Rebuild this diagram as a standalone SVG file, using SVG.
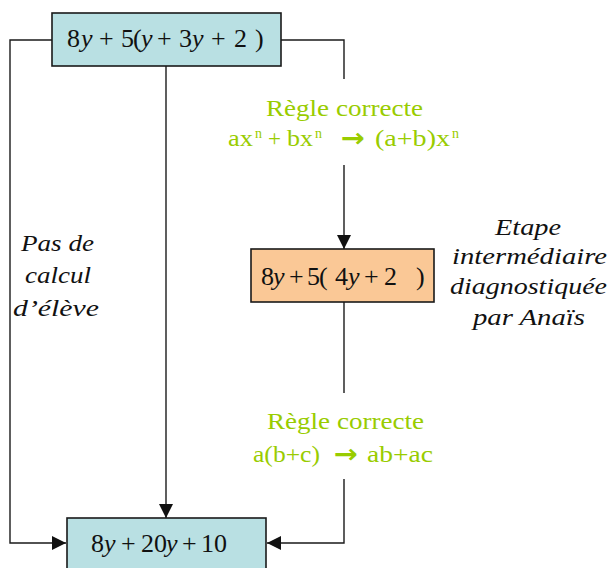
<svg xmlns="http://www.w3.org/2000/svg" width="608" height="568" viewBox="0 0 608 568">
<style>
.box{stroke:#1a1a1a;stroke-width:1.6}
.teal{fill:#B9E0E3}
.orange{fill:#FAC896}
.math{font-family:"Liberation Serif","Times New Roman",serif;font-size:26px;fill:#111}
.math .v{font-style:italic}
.rule{font-family:"Liberation Serif","Times New Roman",serif;font-size:23px;fill:#99CC00}
.rule .sup{font-size:14px}
.arr{font-family:"DejaVu Sans",sans-serif;font-weight:bold;font-size:26px}
.lbl{font-family:"Liberation Serif","Times New Roman",serif;font-style:italic;font-size:23px;fill:#111}
.conn{fill:none;stroke:#1a1a1a;stroke-width:1.4}
</style>
<defs>
<marker id="ah" markerUnits="userSpaceOnUse" markerWidth="14" markerHeight="14" viewBox="0 0 14 14" refX="14" refY="7" orient="auto">
<path d="M0,0 L14,7 L0,14 Z" fill="#111"/>
</marker>
</defs>

<g id="connectors">
<path class="conn" d="M52,40 H10 V543 H66" marker-end="url(#ah)"/>
<path class="conn" d="M166,66 V518" marker-end="url(#ah)"/>
<path class="conn" d="M281,40 H344 V79"/>
<path class="conn" d="M344,165 V249" marker-end="url(#ah)"/>
<path class="conn" d="M344,302 V393"/>
<path class="conn" d="M344,479 V543 H267" marker-end="url(#ah)"/>
</g>

<g id="node-top">
<rect class="box teal" x="52" y="13" width="229" height="53"/>
<text class="math" y="47"><tspan x="67">8</tspan><tspan class="v" x="81">y</tspan><tspan x="99">+</tspan><tspan x="121">5</tspan><tspan x="133">(</tspan><tspan class="v" x="141">y</tspan><tspan x="157">+</tspan><tspan x="179">3</tspan><tspan class="v" x="192">y</tspan><tspan x="211">+</tspan><tspan x="234">2</tspan><tspan x="255">)</tspan></text>
</g>

<g id="node-mid">
<rect class="box orange" x="251" y="249" width="183" height="53"/>
<text class="math" y="285"><tspan x="261">8</tspan><tspan class="v" x="273">y</tspan><tspan x="289">+</tspan><tspan x="307">5</tspan><tspan x="319">(</tspan><tspan x="335">4</tspan><tspan class="v" x="348">y</tspan><tspan x="364">+</tspan><tspan x="384">2</tspan><tspan x="416">)</tspan></text>
</g>

<g id="node-bottom">
<rect class="box teal" x="67" y="518" width="199" height="60"/>
<text class="math" y="552"><tspan x="91">8</tspan><tspan class="v" x="104">y</tspan><tspan x="121">+</tspan><tspan x="141">20</tspan><tspan class="v" x="166">y</tspan><tspan x="182">+</tspan><tspan x="201">10</tspan></text>
</g>

<g id="rule1">
<text class="rule" x="266" y="116" textLength="157" lengthAdjust="spacingAndGlyphs">Règle correcte</text>
<text class="rule" y="146"><tspan x="228" textLength="25" lengthAdjust="spacingAndGlyphs">ax</tspan><tspan class="sup" x="255" y="138">n</tspan><tspan x="268" y="146">+</tspan><tspan x="287" textLength="26" lengthAdjust="spacingAndGlyphs">bx</tspan><tspan class="sup" x="315" y="138">n</tspan><tspan class="arr" x="341" y="147" textLength="24" lengthAdjust="spacingAndGlyphs">→</tspan><tspan x="375" y="146" textLength="75" lengthAdjust="spacingAndGlyphs">(a+b)x</tspan><tspan class="sup" x="452" y="138">n</tspan></text>
</g>

<g id="rule2">
<text class="rule" x="267" y="429" textLength="157" lengthAdjust="spacingAndGlyphs">Règle correcte</text>
<text class="rule" y="462"><tspan x="253" textLength="67" lengthAdjust="spacingAndGlyphs">a(b+c)</tspan><tspan class="arr" x="334" y="463" textLength="24" lengthAdjust="spacingAndGlyphs">→</tspan><tspan x="367" y="462" textLength="66" lengthAdjust="spacingAndGlyphs">ab+ac</tspan></text>
</g>

<g id="label-left">
<text class="lbl" x="21" y="251" textLength="73" lengthAdjust="spacingAndGlyphs">Pas de</text>
<text class="lbl" x="25" y="283" textLength="66" lengthAdjust="spacingAndGlyphs">calcul</text>
<text class="lbl" x="13" y="316" textLength="86" lengthAdjust="spacingAndGlyphs">d’élève</text>
</g>

<g id="label-right">
<text class="lbl" x="495" y="235" textLength="66" lengthAdjust="spacingAndGlyphs">Etape</text>
<text class="lbl" x="452" y="264" textLength="155" lengthAdjust="spacingAndGlyphs">intermédiaire</text>
<text class="lbl" x="450" y="294" textLength="157" lengthAdjust="spacingAndGlyphs">diagnostiquée</text>
<text class="lbl" x="473" y="325" textLength="112" lengthAdjust="spacingAndGlyphs">par Anaïs</text>
</g>
</svg>
